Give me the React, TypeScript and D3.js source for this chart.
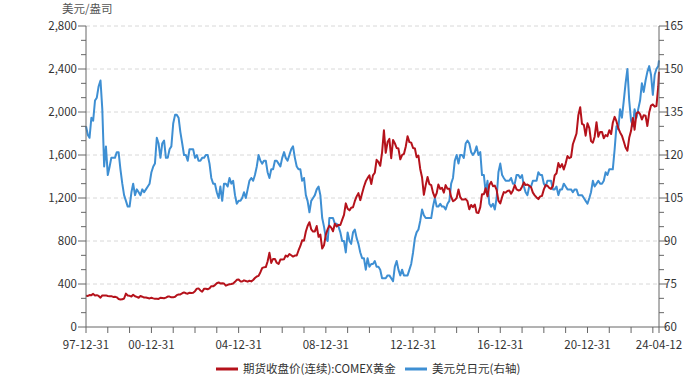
import React from 'react'
import * as d3 from 'd3'

// monthly readings, Dec 1997 -> Apr 2024 (last point = 2024-04-12)
const startYear = 1997
const endDate = new Date(2024, 3, 12)

// COMEX gold, USD/oz
const goldMonthly = [
  290,
  289, 297, 296, 308, 293, 296, 289, 273, 294, 292, 294, 288, // 1998
  287, 287, 280, 282, 276, 261, 256, 257, 265, 311, 293, 290, // 1999
  284, 300, 286, 280, 272, 288, 282, 274, 274, 270, 266, 272, // 2000
  266, 262, 263, 261, 272, 270, 268, 273, 283, 283, 276, 276, // 2001
  282, 296, 302, 303, 314, 322, 314, 310, 319, 317, 319, 333, // 2002
  357, 359, 340, 328, 355, 356, 351, 359, 380, 378, 389, 407, // 2003
  414, 405, 406, 404, 384, 392, 398, 400, 405, 420, 439, 442, // 2004
  424, 423, 434, 428, 422, 430, 424, 437, 456, 470, 476, 510, // 2005
  550, 555, 557, 610, 690, 596, 633, 632, 598, 586, 627, 629, // 2006
  631, 665, 655, 679, 667, 655, 665, 665, 712, 754, 806, 803, // 2007
  889, 940, 975, 909, 888, 889, 939, 839, 860, 730, 760, 860, // 2008
  910, 943, 924, 890, 960, 935, 950, 949, 996, 1043, 1150, 1100, // 2009
  1085, 1110, 1114, 1170, 1215, 1245, 1180, 1245, 1305, 1355, 1385, 1410, // 2010
  1330, 1410, 1435, 1555, 1535, 1500, 1625, 1830, 1620, 1720, 1750, 1570, // 2011
  1740, 1710, 1665, 1660, 1560, 1600, 1610, 1680, 1775, 1720, 1715, 1665, // 2012
  1660, 1580, 1595, 1470, 1390, 1230, 1320, 1395, 1330, 1320, 1250, 1205, // 2013
  1245, 1325, 1285, 1295, 1250, 1320, 1285, 1285, 1210, 1170, 1180, 1200, // 2014
  1280, 1210, 1185, 1185, 1190, 1170, 1095, 1135, 1115, 1140, 1065, 1060, // 2015
  1115, 1235, 1235, 1290, 1215, 1320, 1350, 1310, 1315, 1275, 1175, 1150, // 2016
  1210, 1255, 1250, 1265, 1270, 1240, 1270, 1320, 1280, 1270, 1275, 1305, // 2017
  1345, 1320, 1325, 1315, 1300, 1250, 1225, 1205, 1190, 1215, 1220, 1280, // 2018
  1320, 1315, 1295, 1285, 1310, 1410, 1430, 1525, 1485, 1515, 1465, 1520, // 2019
  1590, 1570, 1580, 1700, 1750, 1800, 1970, 2045, 1890, 1880, 1780, 1895, // 2020
  1850, 1730, 1715, 1770, 1905, 1770, 1815, 1815, 1755, 1785, 1775, 1830, // 2021
  1795, 1900, 1955, 1915, 1850, 1810, 1780, 1725, 1670, 1640, 1760, 1825, // 2022
  1945, 1835, 1985, 2000, 1980, 1930, 1970, 1965, 1870, 1995, 2060, 2070, // 2023
  2050, 2055, 2240, 2375 // 2024
]

// USD/JPY (right axis)
const usdJpyMonthly = [
  130,
  127, 126, 133, 132, 139, 140, 144, 146, 136, 116, 123, 113, // 1998
  116, 119, 119, 119, 121, 121, 115, 110, 106, 104, 102, 102, // 1999
  107, 110, 106, 108, 107, 106, 108, 107, 108, 109, 110, 114, // 2000
  116, 117, 126, 124, 119, 124, 125, 119, 119, 122, 123, 131, // 2001
  134, 134, 133, 128, 124, 120, 120, 118, 122, 122, 122, 119, // 2002
  120, 118, 118, 119, 119, 120, 120, 117, 112, 110, 110, 107, // 2003
  105, 109, 104, 110, 110, 109, 112, 110, 111, 106, 103, 104, // 2004
  104, 105, 107, 105, 108, 111, 112, 111, 113, 116, 120, 118, // 2005
  117, 118, 118, 114, 112, 115, 115, 118, 118, 117, 116, 119, // 2006
  121, 119, 118, 120, 122, 123, 119, 116, 115, 115, 111, 112, // 2007
  106, 104, 100, 104, 105, 106, 108, 109, 106, 98, 95, 91, // 2008
  90, 98, 98, 98, 96, 96, 95, 93, 90, 90, 86, 93, // 2009
  90, 89, 93, 94, 91, 89, 86, 84, 84, 80, 84, 81, // 2010
  82, 82, 83, 81, 81, 80, 77, 77, 77, 78, 78, 77, // 2011
  76, 81, 83, 80, 78, 80, 78, 78, 78, 80, 82, 86, // 2012
  91, 93, 94, 97, 101, 99, 98, 98, 98, 98, 102, 105, // 2013
  102, 102, 103, 102, 102, 101, 103, 104, 110, 112, 118, 120, // 2014
  117, 120, 120, 119, 124, 125, 124, 121, 120, 121, 123, 120, // 2015
  121, 113, 113, 107, 111, 103, 102, 103, 101, 105, 114, 117, // 2016
  113, 112, 111, 111, 111, 112, 110, 110, 113, 113, 112, 113, // 2017
  109, 107, 106, 109, 109, 111, 111, 111, 114, 113, 113, 110, // 2018
  109, 111, 111, 111, 108, 108, 109, 106, 108, 108, 110, 109, // 2019
  108, 108, 108, 107, 108, 108, 106, 106, 106, 105, 104, 103, // 2020
  105, 107, 111, 109, 110, 111, 110, 110, 111, 114, 113, 115, // 2021
  115, 115, 122, 130, 129, 136, 133, 139, 145, 150, 139, 132, // 2022
  130, 136, 133, 136, 139, 145, 142, 146, 149, 151, 148, 141, // 2023
  148, 150, 151, 153 // 2024
]

const leftTicks = [0, 400, 800, 1200, 1600, 2000, 2400, 2800]
const rightTicks = [60, 75, 90, 105, 120, 135, 150, 165]
const xLabelDates = ['1997-12-31', '2000-12-31', '2004-12-31', '2008-12-31', '2012-12-31', '2016-12-31', '2020-12-31']
const legendItems = ['期货收盘价(连续):COMEX黄金', '美元兑日元(右轴)']

const W = 699
const H = 385
const margin = { top: 26, right: 40, bottom: 58, left: 86 }
const red = '#B5121B'
const blue = '#3E8FD3'
const axisColor = '#666'
const textColor = '#333'
const font = '"Noto Sans CJK SC", "Noto Sans", sans-serif'
const fs = 11.5

const monthDate = (i: number) => {
  const d = new Date(startYear, 11 + i + 1, 0) // last day of month
  return d > endDate ? endDate : d
}

const App = () => {
  const x0 = margin.left
  const x1 = W - margin.right
  const y0 = H - margin.bottom
  const y1 = margin.top

  const x = d3.scaleTime().domain([new Date(1997, 11, 31), endDate]).range([x0, x1])
  const yL = d3.scaleLinear().domain([0, 2800]).range([y0, y1])
  const yR = d3.scaleLinear().domain([60, 165]).range([y0, y1])

  const goldData = goldMonthly.map((v, i) => ({ d: monthDate(i), v }))
  const jpyData = usdJpyMonthly.map((v, i) => ({ d: monthDate(i), v }))

  const goldLine = d3.line<any>().x(p => x(p.d)).y(p => yL(p.v))
  const jpyLine = d3.line<any>().x(p => x(p.d)).y(p => yR(p.v))

  const fmt = d3.format(',')
  const minorL = d3.range(0, 22).map(i => (2800 / 21) * i)
  const minorR = d3.range(0, 22).map(i => 60 + 5 * i)
  const yearTicks = d3.range(1997, 2024).map(y => new Date(y, 11, 31))
  const parse = d3.timeParse('%Y-%m-%d')
  const fmtX = d3.timeFormat('%y-%m-%d')

  return (
    <svg width={W} height={H} style={{ position: 'absolute', left: 0, top: 0, background: '#fff' }} fontFamily={font}>
      <text x={62} y={13} fontSize={fs} fill="#555">美元/盎司</text>

      {/* grid */}
      {leftTicks.slice(1).map(t => (
        <line key={'g' + t} x1={x0} x2={x1} y1={yL(t)} y2={yL(t)} stroke="#d8d8d8" strokeDasharray="4,3" />
      ))}

      {/* lines */}
      <path d={jpyLine(jpyData) || ''} fill="none" stroke={blue} strokeWidth={2} strokeLinejoin="round" />
      <path d={goldLine(goldData) || ''} fill="none" stroke={red} strokeWidth={2} strokeLinejoin="round" />

      {/* left axis */}
      <line x1={x0} x2={x0} y1={y1} y2={y0} stroke={axisColor} />
      {minorL.map((t, i) => (
        <line key={'ml' + i} x1={x0 - (i % 3 === 0 ? 8 : 5)} x2={x0} y1={yL(t)} y2={yL(t)} stroke={axisColor} />
      ))}
      {leftTicks.map(t => (
        <text key={'tl' + t} x={x0 - 9} y={yL(t)} dy="0.35em" textAnchor="end" fontSize={fs} fill={textColor}>{fmt(t)}</text>
      ))}

      {/* right axis */}
      <line x1={x1} x2={x1} y1={y1} y2={y0} stroke={axisColor} />
      {minorR.map((t, i) => (
        <line key={'mr' + i} x1={x1} x2={x1 + (i % 3 === 0 ? 8 : 5)} y1={yR(t)} y2={yR(t)} stroke={axisColor} />
      ))}
      {rightTicks.map(t => (
        <text key={'tr' + t} x={x1 + 5} y={yR(t)} dy="0.35em" fontSize={fs} fill={textColor}>{t}</text>
      ))}

      {/* bottom axis */}
      <line x1={x0} x2={x1} y1={y0} y2={y0} stroke={axisColor} />
      {yearTicks.map((d, i) => (
        <line key={'xt' + i} x1={x(d)} x2={x(d)} y1={y0} y2={y0 + 6} stroke={axisColor} />
      ))}
      <line x1={x1} x2={x1} y1={y0} y2={y0 + 6} stroke={axisColor} />
      {xLabelDates.map(s => (
        <text key={s} x={x(parse(s) as Date)} y={y0 + 22} textAnchor="middle" fontSize={fs} fill={textColor}>{fmtX(parse(s) as Date)}</text>
      ))}
      <text x={x1} y={y0 + 22} textAnchor="middle" fontSize={fs} fill={textColor}>{fmtX(endDate)}</text>

      {/* legend */}
      <line x1={216} x2={238} y1={369} y2={369} stroke={red} strokeWidth={3} />
      <text x={243} y={369} dy="0.35em" fontSize={fs} fill={textColor}>{legendItems[0]}</text>
      <line x1={405} x2={427} y1={369} y2={369} stroke={blue} strokeWidth={3} />
      <text x={432} y={369} dy="0.35em" fontSize={fs} fill={textColor}>{legendItems[1]}</text>
    </svg>
  )
}

export default App
